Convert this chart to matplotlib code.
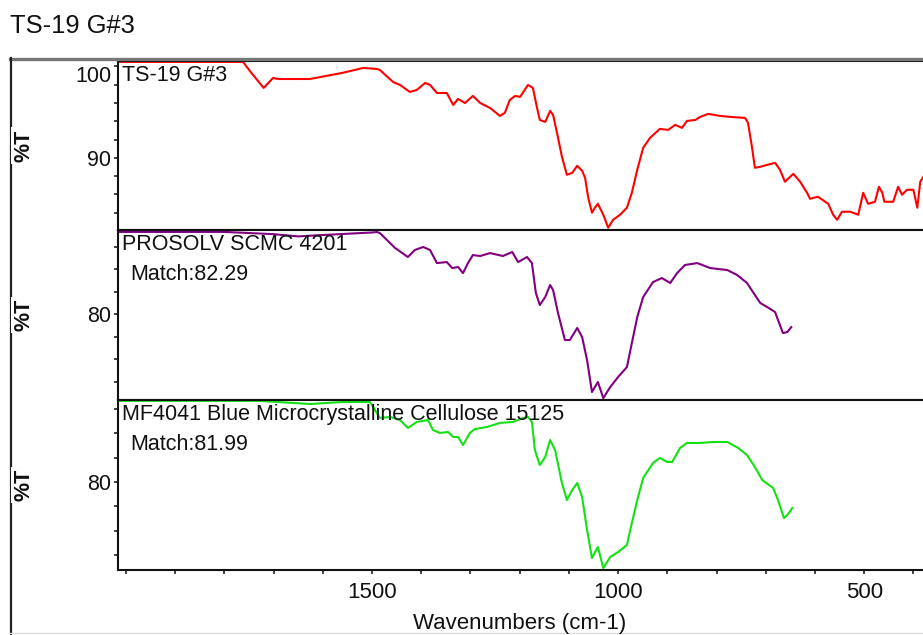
import matplotlib
matplotlib.use("Agg")
import matplotlib.pyplot as plt
from matplotlib.lines import Line2D
from matplotlib.ticker import MultipleLocator, FixedLocator

plt.rcParams['font.family'] = ['Liberation Sans', 'DejaVu Sans']

# ---------------- data ----------------
title = "TS-19 G#3"
xlabel = "Wavenumbers (cm-1)"
ylabel = "%T"

sample_name = "TS-19 G#3"
sample_wn = [2016, 1850, 1762, 1745, 1720, 1701, 1690, 1626, 1560, 1518, 1490, 1484,
             1457, 1443, 1423, 1409, 1392, 1382, 1368, 1348, 1335, 1325, 1311, 1295,
             1280, 1260, 1240, 1230, 1220, 1209, 1199, 1183, 1173, 1165, 1159, 1148,
             1138, 1132, 1124, 1114, 1104, 1093, 1083, 1073, 1067, 1061, 1053, 1047,
             1041, 1030, 1020, 1010, 996, 982, 972, 961, 949, 935, 915, 898, 884, 870,
             860, 843, 833, 817, 793, 772, 742, 736, 728, 722, 711, 697, 681, 671, 661,
             644, 630, 616, 610, 594, 573, 563, 555, 545, 528, 512, 502, 492, 478, 470,
             463, 459, 441, 431, 423, 413, 400, 392, 386, 380]
sample_t = [100.5, 100.5, 100.5, 99.3, 97.65, 98.74, 98.63, 98.63, 99.3, 99.84, 99.73, 99.62,
            98.3, 97.98, 97.21, 97.43, 98.2, 97.98, 97.1, 97.1, 95.79, 96.45, 96.0, 96.78,
            96.0, 95.46, 94.59, 94.92, 96.34, 96.78, 96.67, 97.98, 97.65, 95.57, 94.15, 93.93,
            95.14, 94.7, 92.73, 90.11, 88.14, 88.36, 89.13, 88.58, 87.81, 85.74, 83.99, 84.54,
            84.97, 83.77, 82.35, 83.22, 83.77, 84.54, 86.17, 88.69, 91.09, 92.19, 93.17, 93.06, 93.61, 93.28,
            94.04, 94.15, 94.48, 94.81, 94.59, 94.48, 94.37, 93.83, 91.2, 88.91, 89.02, 89.23, 89.45, 88.69, 87.38,
            88.25, 87.38, 86.17, 85.52, 85.74, 84.97, 83.77, 83.22, 84.1, 84.1, 83.77, 86.17, 84.97, 85.19, 86.83,
            86.17, 85.19, 85.19, 86.83, 85.96, 86.5, 86.5, 84.54, 87.38, 87.9]

ref1_name = "PROSOLV SCMC 4201"
ref1_match = "Match:82.29"
ref1_wn = [2016, 1800, 1700, 1650, 1610, 1500, 1490, 1484, 1453, 1427, 1413, 1396, 1382,
           1368, 1348, 1337, 1325, 1315, 1305, 1295, 1280, 1260, 1234, 1215, 1203, 1185,
           1175, 1167, 1159, 1148, 1138, 1132, 1122, 1108, 1098, 1083, 1073, 1063, 1053,
           1041, 1030, 1016, 1000, 982, 972, 961, 949, 929, 911, 894, 880, 864, 839, 813,
           778, 758, 738, 726, 711, 697, 681, 675, 665, 656, 648]
ref1_t = [87.3, 87.3, 87.1, 86.9, 87.0, 87.25, 87.29, 87.2, 85.87, 85.07, 85.69, 85.96, 85.69,
          84.53, 84.62, 84.09, 84.18, 83.64, 84.53, 85.24, 85.16, 85.42, 85.16, 85.51, 84.62, 85.07,
          84.53, 81.87, 80.8, 81.51, 82.58, 82.13, 80.09, 77.69, 77.69, 78.76, 77.96, 75.91, 73.07,
          73.96, 72.53, 73.51, 74.4, 75.29, 77.42, 79.73, 81.51, 82.84, 83.2, 82.76, 83.64, 84.36, 84.53, 84.09,
          83.91, 83.47, 82.76, 81.96, 80.98, 80.62, 80.18, 79.47, 78.31, 78.4, 78.84]

ref2_name = "MF4041 Blue Microcrystalline Cellulose 15125"
ref2_match = "Match:81.99"
ref2_wn = [2016, 1730, 1693, 1626, 1559, 1504, 1484, 1463, 1443, 1427, 1409, 1386, 1376,
           1362, 1345, 1335, 1325, 1315, 1301, 1291, 1266, 1240, 1213, 1193, 1183, 1175,
           1169, 1159, 1148, 1138, 1128, 1114, 1104, 1093, 1083, 1073, 1063, 1053, 1041,
           1030, 1016, 1000, 982, 972, 961, 949, 929, 915, 900, 890, 874, 860, 833, 807,
           778, 756, 738, 722, 707, 685, 675, 663, 656, 646]
ref2_t = [86.65, 86.65, 86.56, 86.39, 86.56, 86.56, 85.25, 85.33, 85.08, 84.43, 84.92, 85.08, 84.26,
          84.02, 84.1, 83.69, 83.69, 83.03, 84.02, 84.34, 84.51, 84.84, 84.92, 85.25, 85.33, 84.92,
          82.62, 81.39, 82.05, 83.44, 82.62, 79.92, 78.52, 79.34, 79.92, 78.77, 76.07, 73.77, 74.67,
          72.95, 73.85, 74.26, 74.84, 76.64, 78.52, 80.33, 81.56, 81.97, 81.64, 81.64, 82.79, 83.2, 83.2, 83.28,
          83.28, 82.79, 82.21, 81.23, 80.16, 79.51, 78.52, 77.05, 77.3, 77.87]

x_major = [1500, 1000, 500]
y_major = [[90, 100], [80], [80]]
y_lims = [(82.1, 100.6), (72.36, 87.47), (72.79, 86.72)]
x_lim = (2016, 224)

# ---------------- layout ----------------
W, H = 923, 635
fig = plt.figure(figsize=(W / 100, H / 100), dpi=100)

def fx(p):
    return p / W

def fy(p):
    return 1 - p / H

L, R = 118, 1000
panels = [(61, 230), (230, 400), (400, 570)]
series = [
    (sample_wn, sample_t, '#ff0000', [sample_name]),
    (ref1_wn, ref1_t, '#800080', [ref1_name, ref1_match]),
    (ref2_wn, ref2_t, '#14e014', [ref2_name, ref2_match]),
]

# outer frame
fig.add_artist(Line2D([fx(10), 1.0], [fy(59), fy(59)], color='#777777', lw=2.4))
fig.add_artist(Line2D([fx(11), fx(11)], [fy(58), fy(636)], color='#222222', lw=1.6))
fig.add_artist(Line2D([fx(10), 1.0], [fy(633), fy(633)], color='#dddddd', lw=1.0))

fig.text(fx(10), fy(33), title, fontsize=18.4, ha='left', va='baseline', color='#111111')

axes = []
for i, ((top, bot), (wn, t, col, labels)) in enumerate(zip(panels, series)):
    ax = fig.add_axes([fx(L), fy(bot), (R - L) / W, (bot - top) / H])
    axes.append(ax)
    ax.plot(wn, t, color=col, lw=1.5, zorder=2)
    ax.set_xlim(*x_lim)
    ax.set_ylim(*y_lims[i])
    for s in ['left', 'top', 'bottom']:
        ax.spines[s].set_linewidth(1.5)
        ax.spines[s].set_color('#111111')
    ax.spines['right'].set_visible(False)
    ax.yaxis.set_major_locator(FixedLocator(y_major[i]))
    ax.yaxis.set_minor_locator(MultipleLocator(2))
    ax.tick_params(axis='y', which='both', direction='out', length=3, width=1.1,
                   labelsize=15.5, pad=2, colors='#111111')
    if i < 2:
        ax.tick_params(axis='x', which='both', bottom=False, labelbottom=False)
    else:
        ax.xaxis.set_major_locator(FixedLocator(x_major))
        ax.xaxis.set_minor_locator(MultipleLocator(100))
        ax.tick_params(axis='x', which='both', direction='out', length=3, width=1.1,
                       labelsize=16, pad=6, colors='#111111')
    h = bot - top
    ax.text(4 / (R - L), 1 - 20 / h, labels[0], transform=ax.transAxes,
            fontsize=15.5, ha='left', va='baseline', color='#111111', zorder=3)
    if len(labels) > 1:
        ax.text(12 / (R - L), 1 - 50 / h, labels[1], transform=ax.transAxes,
                fontsize=15.5, ha='left', va='baseline', color='#111111', zorder=3)
    fig.text(fx(24), fy((top + bot) / 2), ylabel, rotation=90, ha='center', va='center',
             fontsize=15.5, fontweight='bold', color='#111111',
             bbox=dict(facecolor='white', edgecolor='none', pad=1.5))

fig.text(fx(520), fy(629), xlabel, fontsize=16, ha='center', va='baseline', color='#111111')

fig.canvas.draw()
for tk in axes[0].yaxis.get_major_ticks():
    if abs(tk.get_loc() - 100) < 1e-6:
        tk.label1.set_verticalalignment('top')

fig.savefig('out.png', dpi=100)
